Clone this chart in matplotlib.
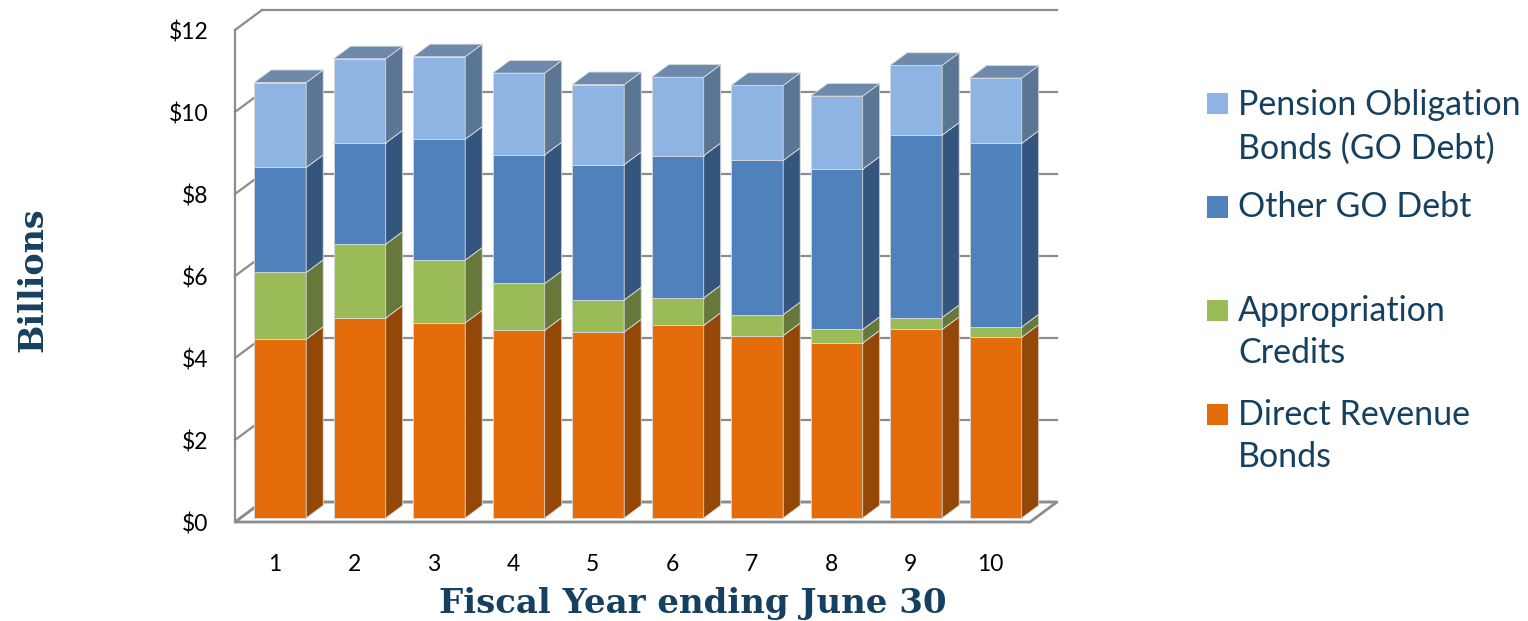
import numpy as np
import matplotlib.pyplot as plt
from matplotlib.patches import Polygon, Rectangle

# values in $ billions
years = [1, 2, 3, 4, 5, 6, 7, 8, 9, 10]
direct_revenue = [4.36, 4.88, 4.76, 4.58, 4.54, 4.70, 4.45, 4.27, 4.60, 4.41]
appropriation = [1.63, 1.80, 1.53, 1.14, 0.78, 0.67, 0.51, 0.33, 0.29, 0.25]
other_go = [2.56, 2.47, 2.95, 3.14, 3.30, 3.47, 3.76, 3.91, 4.45, 4.48]
pension_go = [2.07, 2.05, 2.01, 1.99, 1.95, 1.91, 1.83, 1.78, 1.70, 1.59]

y_ticks = [0, 2, 4, 6, 8, 10, 12]
y_tick_labels = ["$0", "$2", "$4", "$6", "$8", "$10", "$12"]

series = [
    ("Direct Revenue\nBonds", direct_revenue, "#E46C0A", "#944706", "#A65510"),
    ("Appropriation\nCredits", appropriation, "#9BBB59", "#66783A", "#7A9146"),
    ("Other GO Debt", other_go, "#4F81BD", "#34557D", "#3F6796"),
    ("Pension Obligation\nBonds (GO Debt)", pension_go, "#8DB4E2", "#5B7594", "#6D8AAD"),
]

text_col = "#16405F"
grid_col = "#8C8C8C"

W, H = 1528, 621
fig = plt.figure(figsize=(W / 100, H / 100), dpi=100)
ax = fig.add_axes([235 / W, 1 - 522 / H, (1030 - 235) / W, (522 - 30) / H])
ax.set_xlim(0.5, 10.5)
ax.set_ylim(0, 12)

# depth of the fake 3d box, in data units
DX = 27 / 79.5
DY = 20 / 41.0
d0, d1 = 0.2, 0.83   # front / back of the bars inside the box
bw = 0.655

# walls and floor
x0, x1 = 0.5, 10.5
floor = Polygon([(x0, 0), (x1, 0), (x1 + DX, DY), (x0 + DX, DY)], closed=True,
                facecolor="white", edgecolor=grid_col, lw=2, zorder=1, clip_on=False)
ax.add_patch(floor)
for t in y_ticks:
    ax.plot([x0 + DX, x1 + DX], [t + DY, t + DY], color=grid_col, lw=1.6, zorder=1, clip_on=False)
    ax.plot([x0, x0 + DX], [t, t + DY], color=grid_col, lw=1.6, zorder=1, clip_on=False)
ax.plot([x0, x0], [0, 12], color=grid_col, lw=1.6, zorder=1, clip_on=False)

# bars: front faces with ax.bar, sides and tops as polygons
x = np.array(years, dtype=float)
bottom = np.zeros(len(years))
sdx = (d1 - d0) * DX
sdy = (d1 - d0) * DY
z = 3
for label, vals, front, side, top in series:
    vals = np.array(vals)
    xf = x + d0 * DX
    yb = bottom + d0 * DY
    ax.bar(xf, vals, bottom=yb, width=bw, color=front, edgecolor="#D9D9D9",
           lw=0.6, zorder=z, clip_on=False)
    for xi, b, v in zip(xf, yb, vals):
        r = xi + bw / 2
        l = xi - bw / 2
        ax.add_patch(Polygon([(r, b), (r + sdx, b + sdy), (r + sdx, b + v + sdy), (r, b + v)],
                             closed=True, facecolor=side, edgecolor="#D9D9D9", lw=0.6,
                             zorder=z, clip_on=False))
        ax.add_patch(Polygon([(l, b + v), (r, b + v), (r + sdx, b + v + sdy), (l + sdx, b + v + sdy)],
                             closed=True, facecolor=top, edgecolor="#D9D9D9", lw=0.6,
                             zorder=z, clip_on=False))
    bottom = bottom + vals
    z += 1

for s in ax.spines.values():
    s.set_visible(False)
ax.set_yticks(y_ticks)
ax.set_yticklabels(y_tick_labels)
ax.set_xticks(years)
ax.set_xticklabels([str(y) for y in years])
ax.tick_params(axis="y", length=0, pad=19, labelsize=16.5, labelcolor="black")
ax.tick_params(axis="x", length=0, pad=23, labelsize=16.5, labelcolor="black")
for lab in ax.get_xticklabels() + ax.get_yticklabels():
    lab.set_family("Lato")

ax.set_xlabel("Fiscal Year ending June 30", family="DejaVu Serif", fontweight="bold",
              fontsize=24.5, color=text_col, labelpad=8)
ax.xaxis.set_label_coords((693 - 235) / 795, -(603 - 522) / 492)
ax.xaxis.label.set_va("center")
fig.text(33 / W, 1 - 280 / H, "Billions", rotation=90, family="DejaVu Serif",
         fontweight="bold", fontsize=24, color=text_col, ha="center", va="center")

# legend drawn by hand to keep the uneven spacing
legend_rows = [
    (series[3], 104, 127),
    (series[2], 207, 207),
    (series[1], 310, 332),
    (series[0], 414, 436),
]
for (label, vals, front, side, top), ysq, ytxt in legend_rows:
    fig.patches.append(Rectangle((1207 / W, 1 - (ysq + 10.5) / H), 21 / W, 21 / H,
                                 transform=fig.transFigure, facecolor=front, edgecolor="none"))
    fig.text(1238 / W, 1 - ytxt / H, label, family="Lato", fontsize=24.5, color=text_col,
             ha="left", va="center", linespacing=1.42)

fig.savefig("out.png", dpi=100)
